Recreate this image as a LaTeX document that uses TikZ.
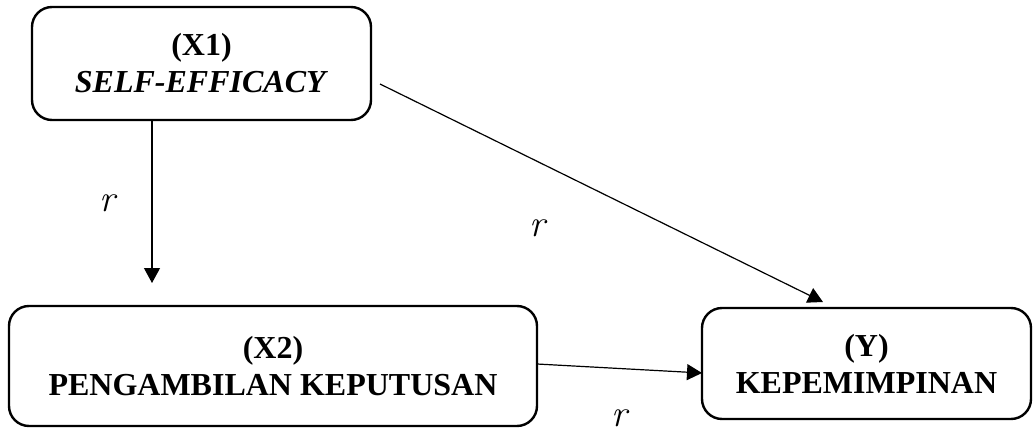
\documentclass[tikz,border=0pt]{standalone}
\usepackage{fontspec}
\setmainfont{Liberation Serif}
\newfontfamily\coeffont{Latin Modern Roman}
\usetikzlibrary{arrows.meta}

\tikzset{
  varbox/.style={draw, line width=2.4pt, rounded corners=20pt, align=center,
    inner sep=0pt, font=\fontsize{32}{37}\selectfont\bfseries},
  arr/.style={line width=1.2pt, -{Triangle[length=15pt,width=16pt]}},
  coef/.style={inner sep=0pt, font=\coeffont\itshape\fontsize{38}{40}\selectfont}
}

\begin{document}
\begin{tikzpicture}[x=1pt, y=-1pt]
  \useasboundingbox (0,0) rectangle (1034,434);

  % variable boxes
  \node[varbox, minimum width=339pt, minimum height=113pt] (x1) at (201.5,63.5)
    {(X1)\\\textit{SELF-EFFICACY}};
  \node[varbox, minimum width=528pt, minimum height=120pt] (x2) at (273,366)
    {(X2)\\PENGAMBILAN KEPUTUSAN};
  \node[varbox, minimum width=329pt, minimum height=111pt] (y) at (866.5,363.5)
    {(Y)\\KEPEMIMPINAN};

  % arrow end points
  \coordinate (v1) at (152,283);
  \coordinate (d0) at (380,84);
  \coordinate (d1) at (823,302);
  \coordinate (h0) at (537,364);
  \coordinate (h1) at (702,373);

  % paths
  \draw[arr] (x1.south -| v1) -- (v1);
  \draw[arr] (d0) -- (d1);
  \draw[arr] (h0) -- (h1);

  % correlation labels
  \node[coef] (r1) at (107,203) {r};
  \node[coef] (r2) at (537,228) {r};
  \node[coef] (r3) at (619,418) {r};
\end{tikzpicture}
\end{document}
